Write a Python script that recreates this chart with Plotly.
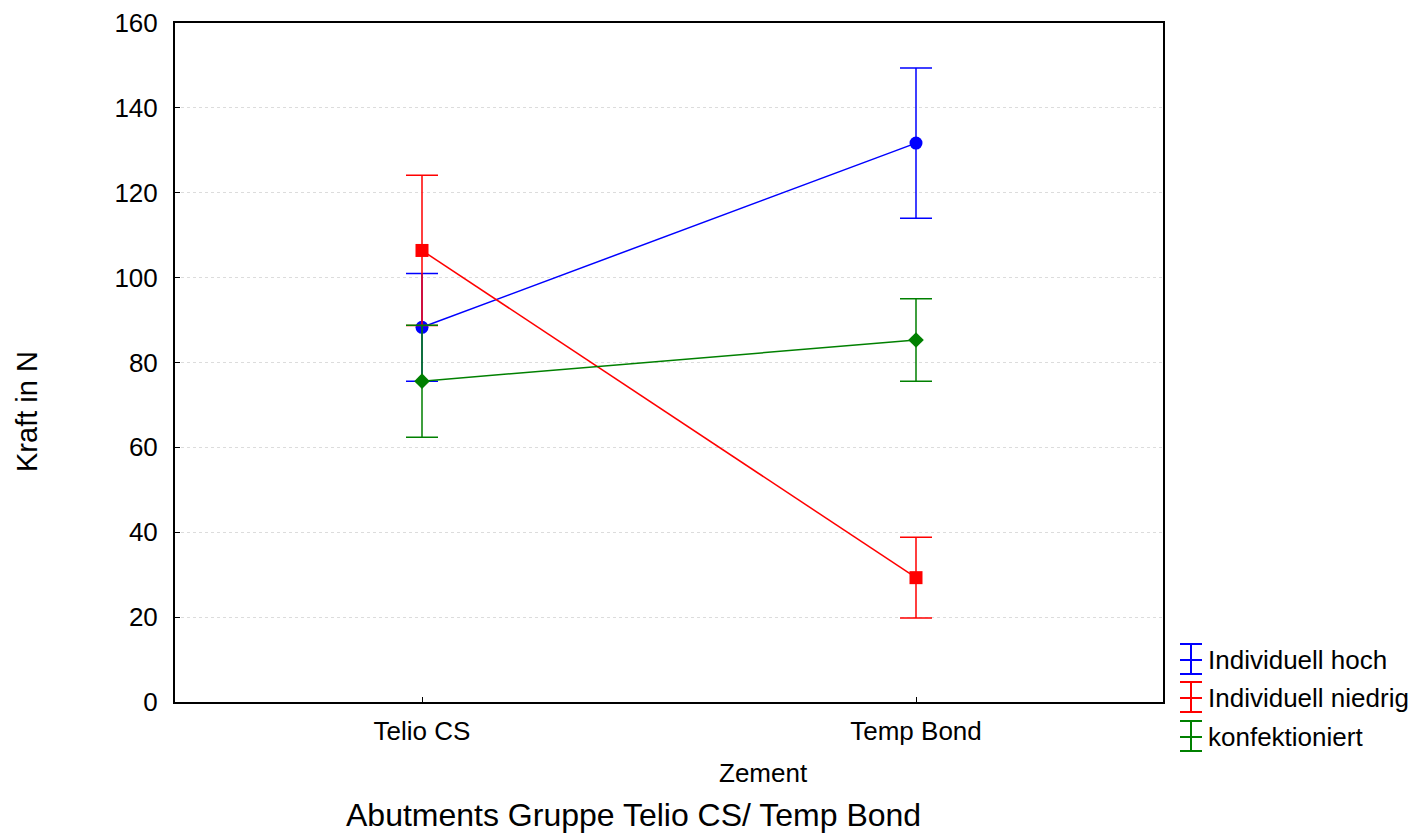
import plotly.graph_objects as go

categories = ["Telio CS", "Temp Bond"]
series_names = ["Individuell hoch", "Individuell niedrig", "konfektioniert"]
means_hoch = [88.3, 131.7]
err_hoch = [12.7, 17.7]
means_niedrig = [106.4, 29.3]
err_niedrig = [17.7, 9.5]
means_konf = [75.6, 85.3]
err_konf = [13.2, 9.7]
y_ticks = [0, 20, 40, 60, 80, 100, 120, 140, 160]

colors = ["#0000ff", "#ff0000", "#008000"]
symbols = ["circle", "square", "diamond"]
means = [means_hoch, means_niedrig, means_konf]
errs = [err_hoch, err_niedrig, err_konf]

FONT = "Liberation Sans, Arial, sans-serif"
xpos = list(range(len(categories)))

fig = go.Figure()
for name, m, e, c, s in zip(series_names, means, errs, colors, symbols):
    fig.add_trace(go.Scatter(
        x=xpos, y=m, name=name, mode="lines+markers",
        line=dict(color=c, width=1.5),
        marker=dict(color=c, symbol=s, size=13 if s != "diamond" else 12),
        error_y=dict(type="data", array=e, visible=True, color=c,
                     thickness=1.5, width=16),
        showlegend=False,
    ))

# plot area in pixels: x 175..1163, y 23..702
L, R, T, B = 175, 1163, 23, 702
def px(x):
    return (x - L) / (R - L)
def py(y):
    return (B - y) / (B - T)

shapes = []
annotations = []
legend_rows = [660, 698, 737]
for name, c, yc in zip(series_names, colors, legend_rows):
    x0, x1, xm = 1180, 1202, 1191
    top, bot = yc - 16, yc + 14
    for (xa, ya, xb, yb) in [(xm, top, xm, bot), (x0, top, x1, top),
                             (x0, bot, x1, bot), (x0, yc, x1, yc)]:
        shapes.append(dict(type="line", xref="paper", yref="paper",
                           x0=px(xa), y0=py(ya), x1=px(xb), y1=py(yb),
                           line=dict(color=c, width=2)))
    annotations.append(dict(text=name, xref="paper", yref="paper",
                            x=px(1206), y=py(yc), xanchor="left", yanchor="middle",
                            showarrow=False, font=dict(family=FONT, size=26, color="black")))

annotations.append(dict(text="Abutments Gruppe Telio CS/ Temp Bond", xref="paper", yref="paper",
                        x=px(633), y=py(815), xanchor="center", yanchor="middle",
                        showarrow=False, font=dict(family=FONT, size=32, color="black")))
annotations.append(dict(text="Zement", xref="paper", yref="paper",
                        x=px(763), y=py(773), xanchor="center", yanchor="middle",
                        showarrow=False, font=dict(family=FONT, size=26, color="black")))
annotations.append(dict(text="Kraft in N", xref="paper", yref="paper",
                        x=px(27), y=py(412), xanchor="center", yanchor="middle", textangle=-90,
                        showarrow=False, font=dict(family=FONT, size=29, color="black")))

fig.update_layout(
    width=1428, height=834,
    margin=dict(l=L, r=1428 - R, t=T, b=834 - B, autoexpand=False),
    paper_bgcolor="white", plot_bgcolor="white",
    font=dict(family=FONT, size=26, color="black"),
    shapes=shapes, annotations=annotations,
    showlegend=False,
)
fig.update_xaxes(
    range=[-0.5, 1.5], tickvals=xpos, ticktext=categories, automargin=False,
    showline=True, linecolor="black", linewidth=2, mirror=True,
    ticks="inside", ticklen=5, tickcolor="black", showgrid=False, zeroline=False,
    tickfont=dict(size=26), ticklabelstandoff=5,
)
fig.update_yaxes(
    range=[0, 160], tickvals=y_ticks, automargin=False,
    showline=True, linecolor="black", linewidth=2, mirror=True,
    ticks="inside", ticklen=5, tickcolor="black",
    showgrid=True, gridcolor="#dcdcdc", griddash="dot", gridwidth=1, zeroline=False,
    tickfont=dict(size=26), ticklabelstandoff=10,
)
fig.write_html("out.html")
